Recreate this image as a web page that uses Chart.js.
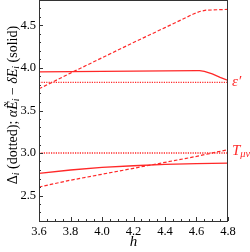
<!DOCTYPE html>
<html>
<head>
<meta charset="utf-8">
<script src="https://cdn.jsdelivr.net/npm/chart.js@4"></script>
<style>
  html, body { margin: 0; padding: 0; background: #fff; }
  #wrap { width: 250px; height: 252px; }
</style>
</head>
<body>
<div id="wrap"><canvas id="c"></canvas></div>
<script>
// values
var hGrid = [3.6, 3.8, 4.0, 4.2, 4.4, 4.6, 4.8];

var epsDotted = [3.83, 3.83, 3.83, 3.83, 3.83, 3.83, 3.83];
var epsSolidH = [3.6, 4.0, 4.4, 4.6, 4.62, 4.65, 4.7, 4.75, 4.8];
var epsSolid  = [3.955, 3.96, 3.965, 3.97, 3.97, 3.96, 3.93, 3.89, 3.855];
var epsDashedH = [3.6, 3.8, 4.0, 4.2, 4.4, 4.58, 4.62, 4.66, 4.8];
var epsDashed  = [3.755, 3.94, 4.12, 4.3, 4.475, 4.635, 4.665, 4.68, 4.69];

var tDotted = [3.0, 3.0, 3.0, 3.0, 3.0, 3.0, 3.0];
var tSolid  = [2.76, 2.8, 2.83, 2.85, 2.865, 2.875, 2.88];
var tDashed = [2.6, 2.68, 2.75, 2.82, 2.89, 2.96, 3.04];

var xTicks = [3.6, 3.8, 4.0, 4.2, 4.4, 4.6, 4.8];
var yTicks = [2.5, 3.0, 3.5, 4.0, 4.5];

var red = 'rgb(255,40,40)';
var serif = '"Liberation Serif", "DejaVu Serif", serif';

function pts(xs, ys) {
    return xs.map(function(x, i) { return {x: x, y: ys[i]}; });
}

function line(data, dash, w) {
    return {
        data: data,
        borderColor: red,
        borderWidth: w,
        borderDash: dash,
        pointRadius: 0,
        tension: 0,
        fill: false
    };
}

// draws a string made of pieces with italic / subscript parts
function richText(ctx, parts, x, y, size) {
    var cx = x;
    parts.forEach(function(p) {
        var s = p.sub ? size * 0.7 : size;
        ctx.font = (p.it ? 'italic ' : '') + s + 'px ' + serif;
        ctx.fillText(p.t, cx, p.sub ? y + size * 0.22 : y);
        cx += ctx.measureText(p.t).width;
    });
    return cx - x;
}
function richWidth(ctx, parts, size) {
    var w = 0;
    parts.forEach(function(p) {
        var s = p.sub ? size * 0.7 : size;
        ctx.font = (p.it ? 'italic ' : '') + s + 'px ' + serif;
        w += ctx.measureText(p.t).width;
    });
    return w;
}

var yTitle = [
    {t: 'Δ'}, {t: 'i', it: true, sub: true}, {t: ' (dotted); '},
    {t: 'α', it: true}, {t: 'Ẽ', it: true}, {t: 'i', it: true, sub: true},
    {t: ' − '}, {t: 'δ', it: true}, {t: 'E', it: true}, {t: 'i', it: true, sub: true},
    {t: ' (solid)'}
];

function noPad(s) {
    s.paddingTop = 0; s.paddingBottom = 0;
    s.paddingLeft = 0; s.paddingRight = 0;
}

var frame = {
    id: 'frame',
    afterDraw: function(chart) {
        var ctx = chart.ctx, a = chart.chartArea;
        var x = chart.scales.x, y = chart.scales.y;
        ctx.save();
        ctx.strokeStyle = '#333';
        ctx.lineWidth = 1;
        ctx.strokeRect(Math.round(a.left) + 0.5, Math.round(a.top) + 0.5,
            Math.round(a.right - a.left) - 1, Math.round(a.bottom - a.top));

        ctx.beginPath();
        for (var i = 0; i <= 24; i++) {
            var v = 3.6 + i * 0.05;
            var px = Math.round(x.getPixelForValue(v)) + 0.5;
            var len = (i % 4 === 0) ? 4 : 2;
            ctx.moveTo(px, a.bottom);
            ctx.lineTo(px, a.bottom - len);
        }
        for (var j = 0; j <= 26; j++) {
            var w = 2.2 + j * 0.1;
            var py = Math.round(y.getPixelForValue(w)) + 0.5;
            var l2 = (Math.abs(w * 2 - Math.round(w * 2)) < 1e-6) ? 4 : 2;
            ctx.moveTo(a.left, py);
            ctx.lineTo(a.left + l2, py);
        }
        ctx.stroke();

        // series labels
        ctx.fillStyle = red;
        ctx.textBaseline = 'middle';
        ctx.textAlign = 'left';
        var ex = x.getPixelForValue(4.8) + 4;
        richText(ctx, [{t: 'ε′', it: true}], ex, y.getPixelForValue(3.84), 15);
        richText(ctx, [{t: 'T', it: true}, {t: 'μν', it: true, sub: true}], ex, y.getPixelForValue(3.02), 15);

        // axis titles
        ctx.fillStyle = '#000';
        ctx.textAlign = 'left';
        ctx.textBaseline = 'middle';
        ctx.font = 'italic 15px ' + serif;
        var hw = ctx.measureText('h').width;
        ctx.fillText('h', (a.left + a.right) / 2 - hw / 2, 242);

        ctx.save();
        ctx.translate(13, 105);
        ctx.rotate(-Math.PI / 2);
        var tw = richWidth(ctx, yTitle, 14);
        richText(ctx, yTitle, -tw / 2, 0, 14);
        ctx.restore();
        ctx.restore();
    }
};

new Chart(document.getElementById('c').getContext('2d'), {
    type: 'line',
    data: {
        datasets: [
            line(pts(hGrid, epsDotted), [1.2, 1.2], 1.3),
            line(pts(epsSolidH, epsSolid), [], 1.3),
            line(pts(epsDashedH, epsDashed), [3.5, 2], 1.2),
            line(pts(hGrid, tDotted), [1.2, 1.2], 1.3),
            line(pts(hGrid, tSolid), [], 1.3),
            line(pts(hGrid, tDashed), [3.5, 2], 1.2)
        ]
    },
    options: {
        responsive: true,
        maintainAspectRatio: false,
        animation: false,
        layout: { padding: { top: 0, right: 22, left: 0, bottom: 0 } },
        plugins: { legend: { display: false }, tooltip: { enabled: false } },
        scales: {
            x: {
                type: 'linear',
                min: 3.6, max: 4.8,
                grid: { display: false, drawTicks: false },
                border: { display: false },
                afterBuildTicks: function(s) { s.ticks = xTicks.map(function(v) { return {value: v}; }); },
                afterFit: function(s) { s.height = 31; noPad(s); },
                ticks: {
                    padding: 3,
                    color: '#000',
                    maxRotation: 0,
                    font: { family: serif, size: 12.5 },
                    callback: function(v) { return v.toFixed(1); }
                }
            },
            y: {
                min: 2.2, max: 4.8,
                grid: { display: false, drawTicks: false },
                border: { display: false },
                afterBuildTicks: function(s) { s.ticks = yTicks.map(function(v) { return {value: v}; }); },
                afterFit: function(s) { s.width = 39; noPad(s); },
                ticks: {
                    padding: 3,
                    color: '#000',
                    font: { family: serif, size: 12.5 },
                    callback: function(v) { return v.toFixed(1); }
                }
            }
        }
    },
    plugins: [frame]
});
</script>
</body>
</html>
